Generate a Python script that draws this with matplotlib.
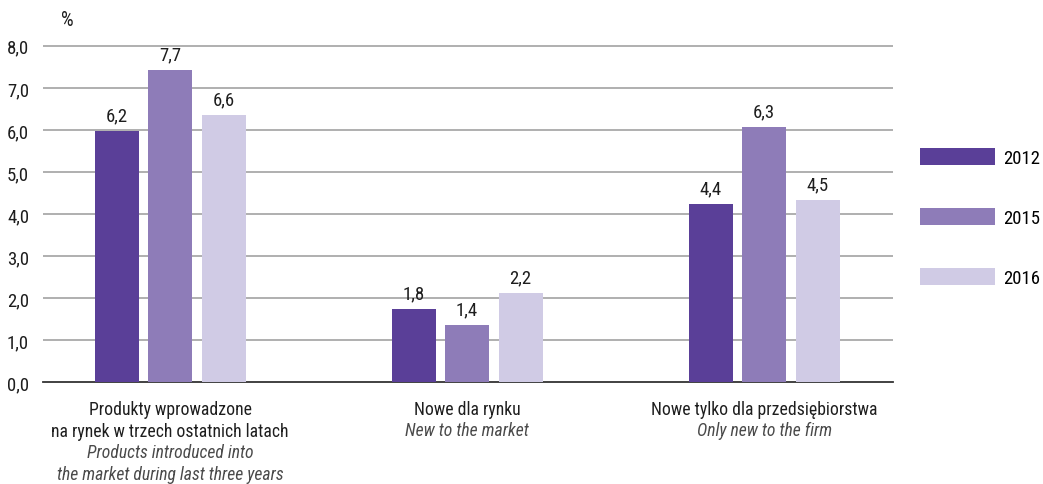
import numpy as np
import matplotlib
matplotlib.use("Agg")
import matplotlib.pyplot as plt
from matplotlib.patches import Patch

plt.rcParams["font.family"] = ["Roboto Condensed", "DejaVu Sans"]

# data
years = ["2012", "2015", "2016"]
cat_pl = ["Produkty wprowadzone\nna rynek w trzech ostatnich latach",
          "Nowe dla rynku",
          "Nowe tylko dla przedsiębiorstwa"]
cat_en = ["Products introduced into\nthe market during last three years",
          "New to the market",
          "Only new to the firm"]
v2012 = [6.2, 1.8, 4.4]
v2015 = [7.7, 1.4, 6.3]
v2016 = [6.6, 2.2, 4.5]
tick_vals = [0, 1, 2, 3, 4, 5, 6, 7, 8]

COLORS = ["#5a3f98", "#8e7cb8", "#d0cbe5"]
GRID = "#a9a9a9"
INK = "#1e1e1e"
MUTED = "#4a4a4a"
FS = 13.5
FS_CAT = 12.7

# the source draws bars ~4% shorter than the value axis implies
AXIS_SCALE = 0.963

fig = plt.figure(figsize=(10.43, 4.85), dpi=100)
ax = fig.add_axes([43 / 1043, 102 / 485, 850 / 1043, 348 / 485])

x = np.arange(len(cat_pl))
bw = 0.148
step = 0.18
series = [v2012, v2015, v2016]
for i, (vals, col) in enumerate(zip(series, COLORS)):
    pos = x + (i - 1) * step
    bars = ax.bar(pos, vals, width=bw, color=col, zorder=3, label=years[i])
    for b, v in zip(bars, vals):
        ax.text(b.get_x() + b.get_width() / 2, v + 0.17, f"{v:.1f}".replace(".", ","),
                ha="center", va="bottom", fontsize=FS, color=INK)

ticks = [t / AXIS_SCALE for t in tick_vals]
ax.set_yticks(ticks)
ax.set_yticklabels([f"{t:.1f}".replace(".", ",") for t in tick_vals], fontsize=FS, color=INK)
ax.set_ylim(0, 8.6)
ax.set_xlim(-0.428, 2.434)
ax.tick_params(axis="y", length=0, pad=10)
ax.set_xticks([])
for t in ticks[1:]:
    ax.axhline(t, color=GRID, lw=1.3, zorder=1)
for s in ["top", "right", "left"]:
    ax.spines[s].set_visible(False)
ax.spines["bottom"].set_color("#333333")
ax.spines["bottom"].set_linewidth(1.3)

# category labels
for xi, pl, en in zip(x, cat_pl, cat_en):
    n_pl = pl.count("\n") + 1
    ax.annotate(pl, (xi, 0), xytext=(0, -13), textcoords="offset points",
                ha="center", va="top", fontsize=FS_CAT, color=INK, linespacing=1.3,
                annotation_clip=False)
    ax.annotate(en, (xi, 0), xytext=(0, -13 - n_pl * 15.3), textcoords="offset points",
                ha="center", va="top", fontsize=FS_CAT, color=MUTED, style="italic",
                linespacing=1.3, annotation_clip=False)

fig.text(67 / 1043, 1 - 21 / 485, "%", ha="center", va="center", fontsize=FS + 1, color=INK)

handles = [Patch(facecolor=c, edgecolor="none") for c in COLORS]
fig.legend(handles, years, loc="upper left", bbox_to_anchor=(903 / 1043, 1 - 132 / 485),
           frameon=False, fontsize=FS, handlelength=4.0, handleheight=1.0,
           labelspacing=2.2, handletextpad=0.45)

fig.savefig("out.png", dpi=100, facecolor="white")
